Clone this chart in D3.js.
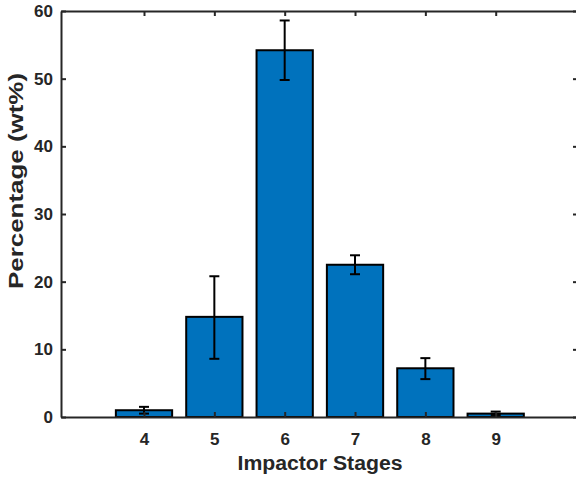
<!doctype html>
<html>
<head>
<style>
  body { margin: 0; background: #fff; }
  text { font-family: "Liberation Sans", Arial, sans-serif; font-weight: bold; fill: #262626; }
</style>
<script src="https://d3js.org/d3.v7.min.js"></script>
</head>
<body>
<svg width="576" height="481"></svg>
<script>
var stages = [4, 5, 6, 7, 8, 9];
var values = [1.0, 14.8, 54.2, 22.5, 7.2, 0.5];
var errLow = [0.5, 6.2, 4.4, 1.4, 1.6, 0.2];
var errHigh = [0.5, 6.0, 4.4, 1.4, 1.5, 0.3];
var yTicks = [0, 10, 20, 30, 40, 50, 60];

var svg = d3.select("svg");
var plotLeft = 61, plotRight = 578, plotTop = 11, plotBottom = 417;

var x = d3.scaleLinear().domain([2.82, 10.17]).range([plotLeft, plotRight]);
var y = d3.scaleLinear().domain([0, 60]).range([plotBottom, plotTop]);
var bw = x(4.8) - x(4);

// bars
svg.selectAll(".bar").data(stages).enter().append("rect")
  .attr("x", function(d) { return x(d) - bw / 2; })
  .attr("y", function(d, i) { return y(values[i]); })
  .attr("width", bw)
  .attr("height", function(d, i) { return y(0) - y(values[i]); })
  .attr("fill", "#0072BD")
  .attr("stroke", "#000")
  .attr("stroke-width", 2);

// error bars
var eb = svg.selectAll(".err").data(stages).enter().append("g").attr("stroke", "#000").attr("stroke-width", 2);
eb.append("line")
  .attr("x1", function(d) { return x(d); }).attr("x2", function(d) { return x(d); })
  .attr("y1", function(d, i) { return y(values[i] - errLow[i]); })
  .attr("y2", function(d, i) { return y(values[i] + errHigh[i]); });
eb.append("line")
  .attr("x1", function(d) { return x(d) - 5; }).attr("x2", function(d) { return x(d) + 5; })
  .attr("y1", function(d, i) { return y(values[i] + errHigh[i]); })
  .attr("y2", function(d, i) { return y(values[i] + errHigh[i]); });
eb.append("line")
  .attr("x1", function(d) { return x(d) - 5; }).attr("x2", function(d) { return x(d) + 5; })
  .attr("y1", function(d, i) { return y(values[i] - errLow[i]); })
  .attr("y2", function(d, i) { return y(values[i] - errLow[i]); });

// axes (box with inward ticks)
var axisColor = "#262626";
var gx = svg.append("g").attr("transform", "translate(0," + plotBottom + ")")
  .call(d3.axisBottom(x).tickValues(stages).tickSizeInner(-5).tickSizeOuter(0).tickPadding(16));
var gxt = svg.append("g").attr("transform", "translate(0," + plotTop + ")")
  .call(d3.axisTop(x).tickValues(stages).tickSizeInner(-5).tickSizeOuter(0).tickFormat(""));
var gy = svg.append("g").attr("transform", "translate(" + plotLeft + ",0)")
  .call(d3.axisLeft(y).tickValues(yTicks).tickSizeInner(-5).tickSizeOuter(0).tickPadding(8));
var gyr = svg.append("g").attr("transform", "translate(" + plotRight + ",0)")
  .call(d3.axisRight(y).tickValues(yTicks).tickSizeInner(-5).tickSizeOuter(0).tickFormat(""));

[gx, gxt, gy, gyr].forEach(function(g) {
  g.select(".domain").attr("stroke", axisColor).attr("stroke-width", 2);
  g.selectAll(".tick line").attr("stroke", axisColor).attr("stroke-width", 2);
  g.selectAll(".tick text").attr("fill", axisColor).style("font-size", "17px").style("font-family", "Liberation Sans, Arial, sans-serif").style("font-weight", "bold");
});

// axis labels
svg.append("text").attr("x", 320).attr("y", 470)
  .attr("text-anchor", "middle").style("font-size", "20px")
  .attr("textLength", 165).attr("lengthAdjust", "spacingAndGlyphs").text("Impactor Stages");
svg.append("text").attr("transform", "translate(23,181) rotate(-90)")
  .attr("text-anchor", "middle").style("font-size", "21px")
  .attr("textLength", 216).attr("lengthAdjust", "spacingAndGlyphs").text("Percentage (wt%)");
</script>
</body>
</html>
